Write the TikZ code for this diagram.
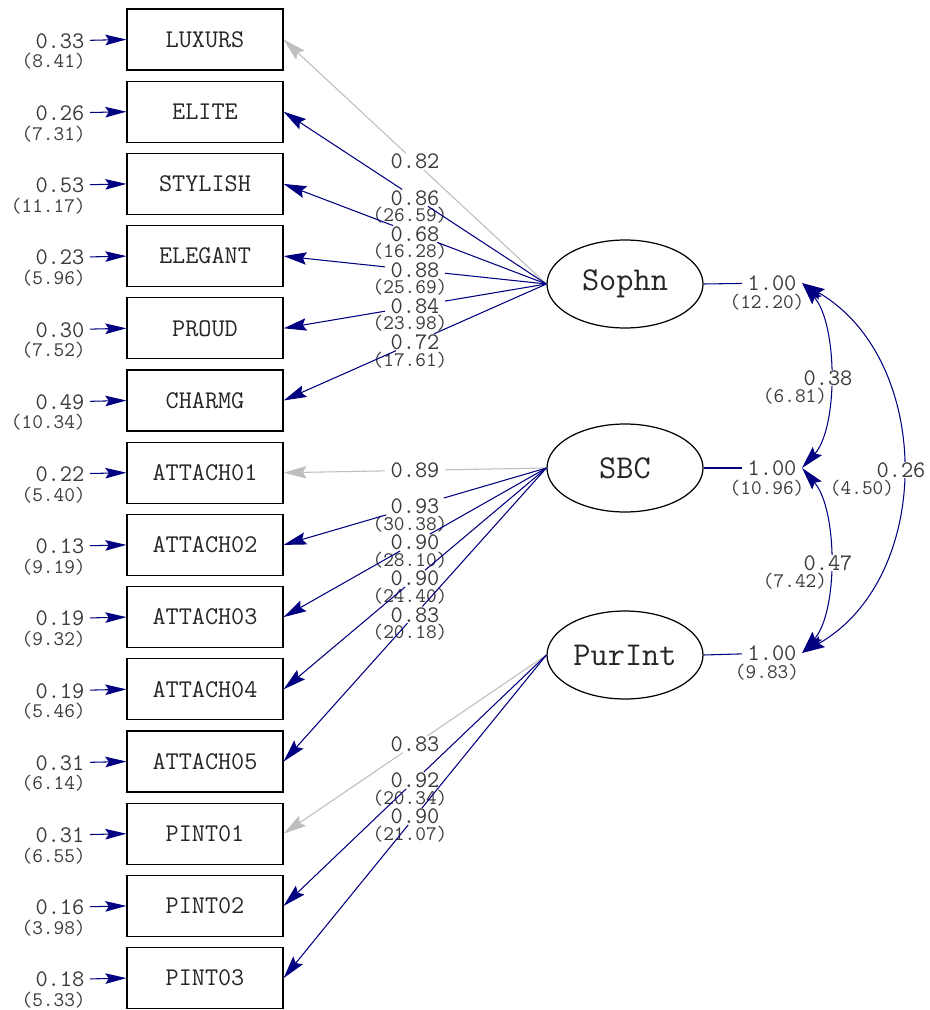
\documentclass[tikz,border=0pt]{standalone}
\usepackage{fontspec}
\usetikzlibrary{arrows.meta,calc,shapes.geometric}

\definecolor{pathblue}{RGB}{0,0,128}
\definecolor{fixedgray}{RGB}{190,190,190}
\definecolor{labelgray}{RGB}{60,60,60}

\newcommand\valfont{\ttfamily\fontsize{13.5}{14}\selectfont}
\newcommand\tvfont{\ttfamily\fontsize{11.8}{12}\selectfont}

\begin{document}
\begin{tikzpicture}[x=0.02cm,y=-0.02cm,
  manifest/.style={draw=black, line width=0.7pt, minimum width=3.12cm,
    minimum height=1.22cm, inner sep=0pt, text=black!85,
    font=\ttfamily\fontsize{14.5}{15}\selectfont},
  latent/.style={ellipse, draw=black, line width=0.7pt, minimum width=3.12cm,
    minimum height=1.76cm, inner sep=0pt, text=black!85,
    font=\ttfamily\fontsize{19}{20}\selectfont},
  val/.style={font=\valfont, text=labelgray, inner xsep=3pt, inner ysep=0.3pt},
  tval/.style={font=\tvfont, text=labelgray, inner sep=0pt},
  path/.style={draw=pathblue, line width=0.6pt},
  load/.style={path, -{Stealth[length=13pt,width=7pt,inset=2pt]}},
  fixed/.style={draw=fixedgray, line width=0.6pt, -{Stealth[length=13pt,width=7pt,inset=2pt]}},
  fixedline/.style={draw=fixedgray, line width=0.6pt},
  err/.style={path, -{Stealth[length=12pt,width=6pt,inset=2pt]}},
  cov/.style={path, {Stealth[length=13pt,width=7pt,inset=2pt]}-{Stealth[length=13pt,width=7pt,inset=2pt]}},
  covlabel/.style={val, fill=white}
]
\useasboundingbox[fill=white] (0,0) rectangle (929,1010);

% observed indicators with their error variances
\foreach \name/\ev/\et [count=\i from 0] in {
  LUXURS/0.33/8.41, ELITE/0.26/7.31, STYLISH/0.53/11.17, ELEGANT/0.23/5.96,
  PROUD/0.30/7.52, CHARMG/0.49/10.34, ATTACH01/0.22/5.40, ATTACH02/0.13/9.19,
  ATTACH03/0.19/9.32, ATTACH04/0.19/5.46, ATTACH05/0.31/6.14, PINT01/0.31/6.55,
  PINT02/0.16/3.98, PINT03/0.18/5.33} {
  \node[manifest] (\name) at (205, 39.5+72.2*\i) {\name};
  \node[val, anchor=east] (e\i) at (90, 41+72.2*\i) {\ev};
  \node[tval, anchor=east] at (86, 61.5+72.2*\i) {(\et)};
  \draw[err] (e\i) -- (\name.west);
}

% latent factors
\node[latent] (Sophn)  at (625,284) {Sophn};
\node[latent] (SBC)    at (625,468) {SBC};
\node[latent] (PurInt) at (625,655) {PurInt};

% fixed loadings (reference indicators)
\foreach \lat/\obs/\v [count=\k] in {Sophn/LUXURS/0.82, SBC/ATTACH01/0.89, PurInt/PINT01/0.83} {
  \node[val] (F\k) at ($(\lat.west)!0.5!(\obs.east)$) {\v};
  \draw[fixedline] (\lat.west) -- (F\k);
  \draw[fixed] (F\k) -- (\obs.east);
}

% estimated loadings with t-values
\foreach \lat/\obs/\v/\t [count=\k] in {
  Sophn/ELITE/0.86/26.59, Sophn/STYLISH/0.68/16.28, Sophn/ELEGANT/0.88/25.69,
  Sophn/PROUD/0.84/23.98, Sophn/CHARMG/0.72/17.61,
  SBC/ATTACH02/0.93/30.38, SBC/ATTACH03/0.90/28.10, SBC/ATTACH04/0.90/24.40,
  SBC/ATTACH05/0.83/20.18,
  PurInt/PINT02/0.92/20.34, PurInt/PINT03/0.90/21.07} {
  \node[val] (L\k) at ($(\lat.west)!0.5!(\obs.east)$) {\v};
  \node[tval] at ($(L\k)+(-5,17.5)$) {(\t)};
  \draw[path] (\lat.west) -- (L\k);
  \draw[load] (L\k) -- (\obs.east);
}

% factor variances
\node[val] (v1) at (772,283) {1.00};
\node[tval] at (767,302) {(12.20)};
\node[val] (v2) at (772,468) {1.00};
\node[tval] at (767,488) {(10.96)};
\node[val] (v3) at (772,653) {1.00};
\node[tval] at (767,672) {(9.83)};
\draw[path] (Sophn.east) -- (v1);
\draw[path] (SBC.east) -- (v2);
\draw[path] (PurInt.east) -- (v3);

% factor covariances
\draw[cov] (v1.east) .. controls (838,325) and (838,428) .. (v2.east);
\draw[cov] (v2.east) .. controls (838,510) and (838,612) .. (v3.east);
\draw[cov] (v1.east) .. controls (934,360) and (934,578) .. (v3.east);
\node[covlabel] at (828,378) {0.38};
\node[tval] at (795,396) {(6.81)};
\node[covlabel] at (828,563) {0.47};
\node[tval] at (795,581) {(7.42)};
\node[covlabel] at (901,470) {0.26};
\node[tval] at (862,488) {(4.50)};
\end{tikzpicture}
\end{document}
